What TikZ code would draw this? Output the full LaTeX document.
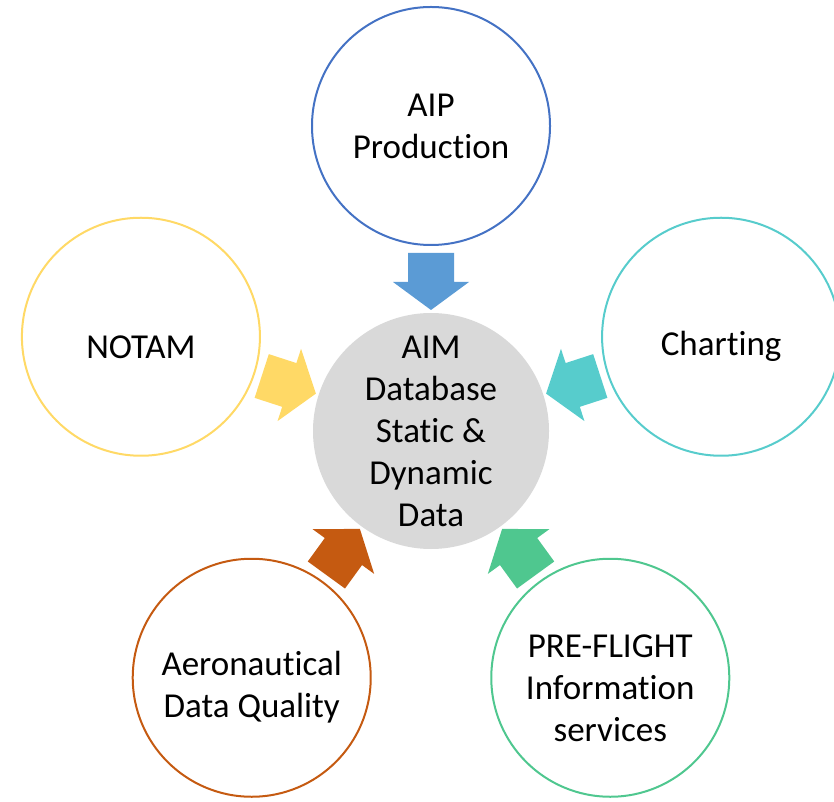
\documentclass[tikz,border=0pt]{standalone}
\usepackage{fontspec}
\setmainfont{Carlito}[Ligatures=NoCommon]
\definecolor{aipline}{HTML}{4472C4}
\definecolor{aipfill}{HTML}{5B9BD5}
\definecolor{notamcol}{HTML}{FFD966}
\definecolor{chartcol}{HTML}{57CCCC}
\definecolor{adqcol}{HTML}{C55A11}
\definecolor{pfiscol}{HTML}{4FC78F}
\definecolor{coregray}{HTML}{D9D9D9}
\newcommand{\droptop}{\rule{0pt}{43pt}}
\begin{document}
\begin{tikzpicture}[x=1pt,y=1pt,
    hub/.style={circle,minimum size=236pt,inner sep=0pt,fill=coregray,
      align=center,font=\fontsize{35}{42}\selectfont},
    spoke/.style={circle,minimum size=238pt,inner sep=0pt,draw=#1,line width=2pt,
      align=center,font=\fontsize{35}{42}\selectfont}]
  \useasboundingbox (0,0) rectangle (834,801);
  \node[hub] (core) at (431,370) {AIM\\Database\\Static \&\\Dynamic\\Data};
  \node[spoke=aipline] (aip) at ([shift={(90:305)}]core) {AIP\\Production};
  \node[spoke=notamcol] (notam) at ([shift={(162:305)}]core) {\droptop NOTAM};
  \node[spoke=chartcol] (chart) at ([shift={(18:305)}]core) {\droptop Charting};
  \node[spoke=adqcol] (adq) at ([shift={(234:305)}]core) {\droptop Aeronautical\\Data Quality};
  \node[spoke=pfiscol] (pfis) at ([shift={(306:305)}]core) {\droptop PRE-FLIGHT\\Information\\services};
  % block arrows pointing in to the hub
  \foreach \ang/\col in {90/aipfill,162/notamcol,18/chartcol,234/adqcol,306/pfiscol} {
    \begin{scope}[shift={(core)},rotate=\ang]
      \fill[\col] (178,-23) -- (149,-23) -- (149,-38) -- (121,0)
        -- (149,38) -- (149,23) -- (178,23) -- cycle;
    \end{scope}
  }
\end{tikzpicture}
\end{document}
